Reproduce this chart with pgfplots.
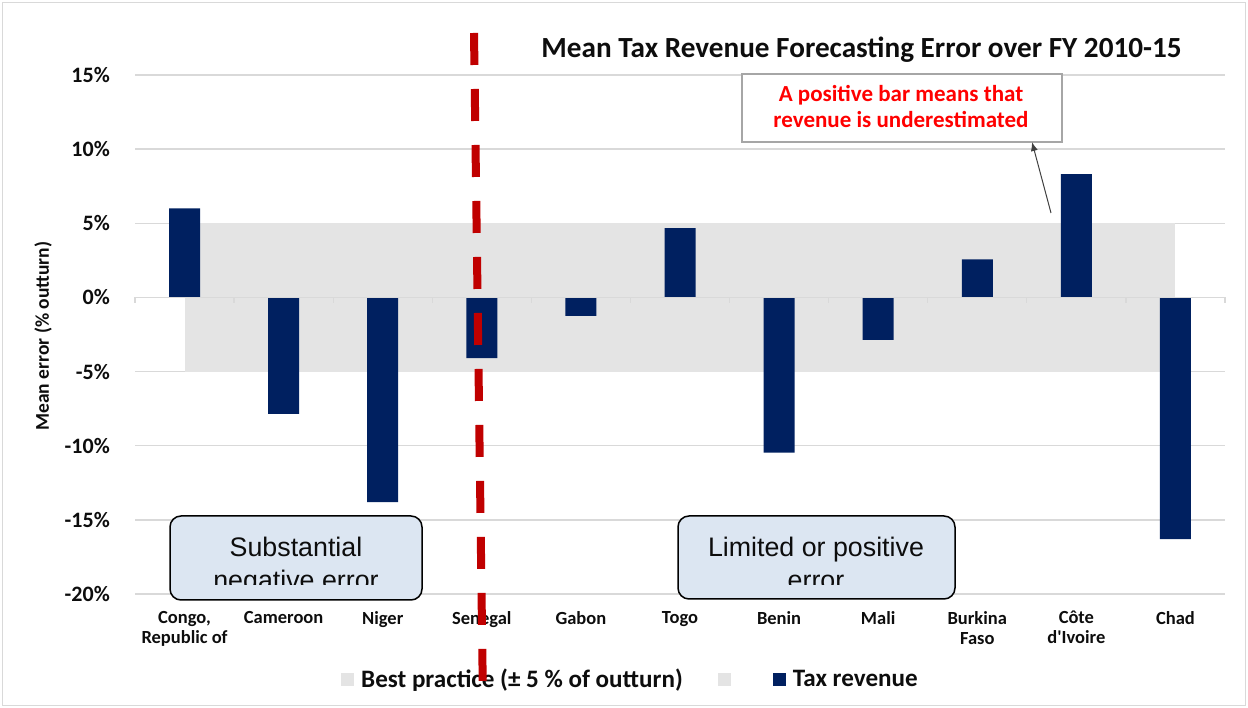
\documentclass[border=0pt]{standalone}
\usepackage{pgfplots}
\pgfplotsset{compat=1.18}
\usetikzlibrary{arrows.meta}
\usepackage{fontspec}
\setmainfont{Carlito}
\newfontfamily\arialfont{Liberation Sans}
\definecolor{navy}{HTML}{002060}
\definecolor{bandgray}{HTML}{E4E4E4}
\definecolor{gridgray}{HTML}{D9D9D9}
\definecolor{darkred}{HTML}{C00000}
\definecolor{boxblue}{HTML}{DCE6F2}
\definecolor{annogray}{HTML}{A6A6A6}
\definecolor{txt}{HTML}{0D0D0D}
\begin{document}
\begin{tikzpicture}[x=1pt,y=1pt]
\useasboundingbox (0,0) rectangle (1248,708);
\draw[gridgray, line width=1.5pt] (2.5,2.5) rectangle (1245.5,705.5);
\begin{axis}[
  at={(135pt,114pt)}, anchor=south west,
  scale only axis, width=1090pt, height=519pt,
  xmin=-0.5, xmax=10.5, ymin=-20, ymax=15,
  axis line style={draw=none},
  major tick length=0pt,
  clip=false,
  ytick={-20,-15,...,15},
  yticklabels={-20\%,-15\%,-10\%,-5\%,0\%,5\%,10\%,15\%},
  yticklabel style={font=\fontsize{22}{24}\selectfont\bfseries, text=txt, inner sep=0pt, xshift=-25pt},
  ymajorgrids, grid style={gridgray, line width=1.4pt},
  xtick={0,...,10},
  xticklabels={{Congo,\\Republic of},Cameroon,Niger,Senegal,Gabon,Togo,Benin,Mali,{Burkina\\Faso},{Côte\\d\textquotesingle Ivoire},Chad},
  xticklabel style={font=\fontsize{18.5}{20}\selectfont\bfseries, text=txt, align=center, anchor=north, inner sep=0pt, yshift=-17pt},
  ylabel={Mean error (\% outturn)},
  ylabel style={at={(axis description cs:-0.0844,0.497)}, anchor=center, font=\fontsize{19.5}{22}\selectfont\bfseries, text=txt},
  legend columns=3,
  legend style={at={(axis description cs:0.189,-0.1638)}, anchor=west, draw=none, fill=none, inner sep=0pt,
    font=\fontsize{25.1}{28}\selectfont\bfseries, text=txt,
    /tikz/every odd column/.append style={column sep=5pt},
    /tikz/every even column/.append style={column sep=33pt}},
  legend cell align=left,
]
\addplot[fill=bandgray, draw=none, legend image code/.code={\fill[bandgray] (0pt,-6.5pt) rectangle (13pt,6.5pt);}]
  coordinates {(0,5) (10,5)} \closedcycle;
\addplot[fill=bandgray, draw=none, legend image code/.code={\fill[bandgray] (0pt,-6.5pt) rectangle (13pt,6.5pt);}]
  coordinates {(0,-5) (10,-5)} \closedcycle;
\addplot[ybar, bar width=31pt, fill=navy, draw=none, legend image code/.code={\fill[navy] (0pt,-6.5pt) rectangle (13pt,6.5pt);}]
  coordinates {(0,6.0) (1,-7.86) (2,-13.8) (3,-4.1) (4,-1.25) (5,4.68) (6,-10.47) (7,-2.87) (8,2.57) (9,8.31) (10,-16.3)};
\legend{Best practice (± 5 \% of outturn),\mbox{},Tax revenue}
\draw[gridgray, line width=1.4pt] (axis cs:-0.5,0) -- (axis cs:10.5,0);
\pgfplotsinvokeforeach{-0.5,0.5,1.5,2.5,3.5,4.5,5.5,6.5,7.5,8.5,9.5,10.5}{
  \draw[gridgray, line width=1.2pt] (axis cs:#1,0) -- ([yshift=-6pt]axis cs:#1,0);
}
\end{axis}
% title
\node[anchor=base east, font=\fontsize{29.2}{33}\selectfont\bfseries, text=txt, inner sep=0pt] at (1182,650) {Mean Tax Revenue Forecasting Error over FY 2010-15};
% annotation
\draw[annogray, line width=1.3pt, fill=white] (742,634) rectangle (1062,566);
\node[anchor=base, font=\fontsize{23}{26}\selectfont\bfseries, text=red, inner sep=0pt] at (901,606) {A positive bar means that};
\node[anchor=base, font=\fontsize{23}{26}\selectfont\bfseries, text=red, inner sep=0pt] at (901,580) {revenue is underestimated};
\draw[-{Latex[length=9pt,width=7pt]}, black!75, line width=1pt] (1051,495) -- (1032,566);
% boxes
\draw[black, line width=1.5pt, fill=boxblue, rounded corners=11pt] (170,192) rectangle (422,108);
\draw[black, line width=1.5pt, fill=boxblue, rounded corners=11pt] (678,192) rectangle (955,109);
\begin{scope}
\clip (172,190) rectangle (420,123);
\node[anchor=base, font=\arialfont\fontsize{26.8}{30}\selectfont, text=txt, inner sep=0pt] at (296,151) {Substantial};
\node[anchor=base, font=\arialfont\fontsize{26.8}{30}\selectfont, text=txt, inner sep=0pt] at (296,118) {negative error};
\end{scope}
\begin{scope}
\clip (680,190) rectangle (953,123);
\node[anchor=base, font=\arialfont\fontsize{26.8}{30}\selectfont, text=txt, inner sep=0pt] at (816,151) {Limited or positive};
\node[anchor=base, font=\arialfont\fontsize{26.8}{30}\selectfont, text=txt, inner sep=0pt] at (816,118) {error};
\end{scope}
% red dashed divider
\draw[darkred, line width=8pt, dash pattern=on 32pt off 24pt] (474,675) -- (483,5);
\end{tikzpicture}
\end{document}
